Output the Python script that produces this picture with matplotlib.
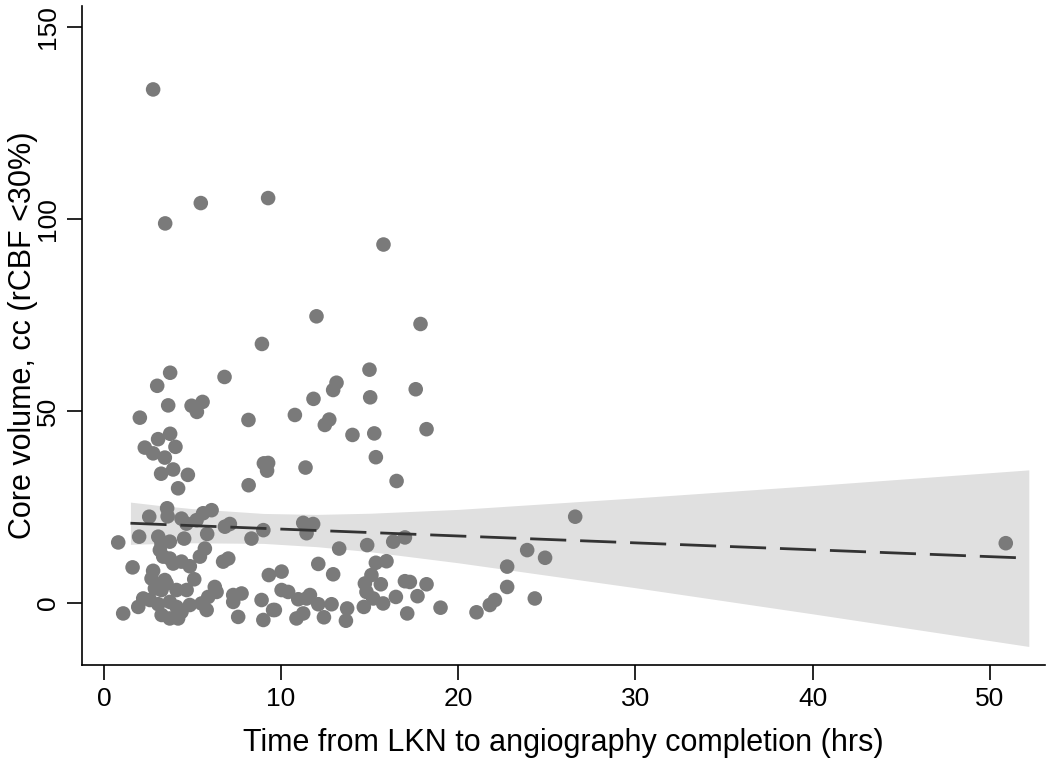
import numpy as np
import matplotlib.pyplot as plt

# time from LKN (hrs) and core volume (cc)
hours = [
    2.78, 5.47, 9.27, 3.46, 15.78, 12.0, 17.87, 8.92, 3.74, 3.01,
    6.81, 14.99, 13.13, 17.6, 12.94, 11.83, 15.03, 3.63, 4.95, 5.57,
    5.25, 2.03, 8.16, 10.78, 12.72, 12.47, 14.03, 15.26, 18.21, 3.74,
    3.06, 4.04, 2.31, 2.78, 3.44, 15.35, 9.03, 9.27, 9.21, 11.38,
    3.23, 3.91, 4.74, 16.52, 8.17, 4.19,
    3.57, 2.56, 3.6, 4.38, 4.66, 5.23, 5.6, 6.08, 6.83, 7.11,
    9.0, 11.25, 11.81, 11.44, 26.6, 0.81, 1.99, 3.07, 3.25, 3.72,
    4.53, 5.83, 8.33, 13.28, 14.86, 16.33, 16.99, 50.9,
    3.16, 3.35, 3.72, 3.91, 4.38, 4.85, 5.7, 5.42, 6.73, 7.02,
    1.62, 2.78, 2.69, 3.06, 3.44, 3.25, 2.88, 3.54, 5.1, 4.1,
    4.67, 6.26, 6.36, 5.89, 2.22, 2.6, 1.94, 3.07, 3.72, 4.1,
    4.38, 4.85, 5.51, 5.8, 1.09, 3.26, 3.72, 4.19, 7.3, 7.77,
    7.3, 7.58, 8.9, 9.55, 9.0, 9.31, 10.03, 10.03, 10.4, 10.97,
    11.44, 11.63, 12.1, 12.85, 13.73, 14.67, 9.65, 10.87, 11.25, 12.42,
    13.66, 12.1, 12.94, 15.35, 15.95, 15.1, 14.73, 14.82, 15.2, 15.63,
    16.99, 17.27, 18.21, 16.48, 17.7, 15.76, 17.12, 19.0, 21.03, 21.78,
    22.07, 22.76, 22.76, 23.89, 24.9, 24.32,
]
core = [
    133.8, 104.2, 105.5, 98.9, 93.4, 74.7, 72.7, 67.5, 60.0, 56.6,
    58.9, 60.8, 57.4, 55.7, 55.5, 53.2, 53.6, 51.5, 51.4, 52.4,
    49.8, 48.3, 47.7, 49.0, 47.8, 46.4, 43.8, 44.2, 45.3, 44.1,
    42.7, 40.7, 40.5, 39.0, 37.9, 38.0, 36.4, 36.5, 34.5, 35.3,
    33.7, 34.8, 33.4, 31.8, 30.7, 29.9,
    24.7, 22.5, 22.6, 22.0, 20.7, 21.6, 23.4, 24.2, 19.9, 20.6,
    19.0, 20.9, 20.6, 18.2, 22.5, 15.8, 17.3, 17.3, 15.5, 16.0,
    16.8, 18.0, 16.8, 14.2, 15.1, 16.0, 17.1, 15.6,
    13.8, 12.1, 11.6, 10.3, 10.8, 9.6, 14.2, 12.1, 10.8, 11.6,
    9.3, 8.4, 6.4, 4.7, 6.0, 3.4, 3.8, 5.1, 6.2, 3.4,
    3.4, 4.2, 2.9, 1.6, 1.2, 0.8, -1.0, -0.3, 0.3, -1.0,
    -2.3, -0.5, -0.1, -1.8, -2.7, -3.1, -4.0, -4.0, 2.1, 2.5,
    0.3, -3.6, 0.8, -1.8, -4.4, 7.3, 8.2, 3.4, 2.9, 1.0,
    1.2, 2.1, -0.3, -0.3, -1.4, -1.0, -1.8, -4.0, -2.7, -3.7,
    -4.6, 10.2, 7.5, 10.5, 10.9, 7.3, 5.1, 2.9, 1.2, 4.9,
    5.7, 5.5, 4.9, 1.6, 1.8, -0.1, -2.7, -1.2, -2.4, -0.5,
    0.8, 9.5, 4.2, 13.8, 11.8, 1.2,
]

# fitted line and 95% CI band
fit_x = [1.5, 52.2]
fit_y = [20.8, 11.7]
ci_x = [1.5, 3, 5, 9, 12, 15, 20, 30, 40, 52.2]
ci_upper = [26.3, 25.5, 24.6, 23.35, 23.1, 23.4, 24.4, 27.4, 30.6, 34.7]
ci_lower = [15.3, 15.5, 15.7, 15.55, 14.7, 13.4, 10.5, 4.0, -2.8, -11.3]

plt.rcParams['font.family'] = ['Liberation Sans', 'DejaVu Sans']

fig = plt.figure(figsize=(10.5, 7.66), dpi=100)
ax = fig.add_axes([0.078, 0.132, 0.917, 0.860])

ax.fill_between(ci_x, ci_lower, ci_upper, color='#e0e0e0', lw=0, zorder=1)
ax.scatter(hours, core, s=110, color='#7a7a7a', edgecolors='none', zorder=2)
ax.plot(fit_x, fit_y, color='#333333', lw=2, dashes=(13, 5), zorder=3)

ax.set_xlim(-1.24, 53.1)
ax.set_ylim(-16.1, 155.5)
ax.set_xticks([0, 10, 20, 30, 40, 50])
ax.set_yticks([0, 50, 100, 150])
ax.spines['top'].set_visible(False)
ax.spines['right'].set_visible(False)
for sp in ['left', 'bottom']:
    ax.spines[sp].set_linewidth(1.2)
ax.tick_params(length=11, width=1.2, labelsize=19, pad=5)
plt.setp(ax.get_yticklabels(), rotation=90, va='center')

ax.set_xlabel('Time from LKN to angiography completion (hrs)', fontsize=22)
ax.set_ylabel('Core volume, cc (rCBF <30%)', fontsize=22)
ax.xaxis.set_label_coords(0.5, -0.096)
ax.yaxis.set_label_coords(-0.046, 0.5)

fig.savefig('out.png', dpi=100)
